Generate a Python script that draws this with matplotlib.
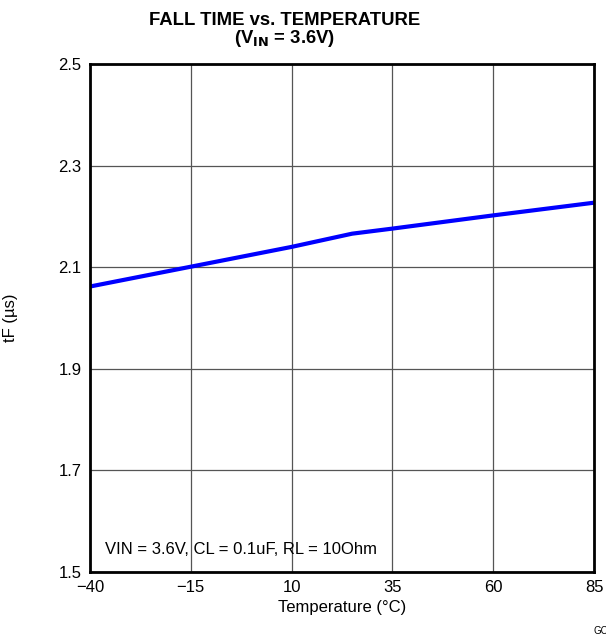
import matplotlib.pyplot as plt

plt.rcParams['font.family'] = ['Liberation Sans', 'DejaVu Sans']

temp = [-40, -15, 10, 25, 35, 60, 85]
fall_time = [2.062, 2.101, 2.140, 2.166, 2.176, 2.202, 2.227]

xticks = [-40, -15, 10, 35, 60, 85]
xticklabels = ['\u221240', '\u221215', '10', '35', '60', '85']
yticks = [1.5, 1.7, 1.9, 2.1, 2.3, 2.5]

fig = plt.figure(figsize=(6.06, 6.42), dpi=100)
ax = fig.add_axes([0.1485, 0.109, 0.8317, 0.7913])

ax.plot(temp, fall_time, color='#0000ff', linewidth=3)

ax.set_xlim(-40, 85)
ax.set_ylim(1.5, 2.5)
ax.set_xticks(xticks)
ax.set_xticklabels(xticklabels)
ax.set_yticks(yticks)
ax.set_yticklabels(['%.1f' % v for v in yticks])
ax.grid(True, color='#555555', linewidth=0.9)
ax.tick_params(length=0, labelsize=12, pad=6)
for s in ax.spines.values():
    s.set_linewidth(2)

ax.set_xlabel('Temperature (\u00b0C)', fontsize=12, labelpad=3)
ax.set_ylabel('tF (\u00b5s)', fontsize=12, labelpad=29)

fig.text(0.469, 0.953, 'FALL TIME vs. TEMPERATURE\n(V$_{\\mathbf{IN}}$ = 3.6V)',
         fontsize=13.3, fontweight='bold', ha='center', va='center',
         linespacing=0.95)

ax.text(0.03, 0.035, 'VIN = 3.6V, CL = 0.1uF, RL = 10Ohm',
        transform=ax.transAxes, fontsize=12)

fig.text(0.98, 0.012, 'GC', fontsize=7)

fig.savefig('out.png', dpi=100)
